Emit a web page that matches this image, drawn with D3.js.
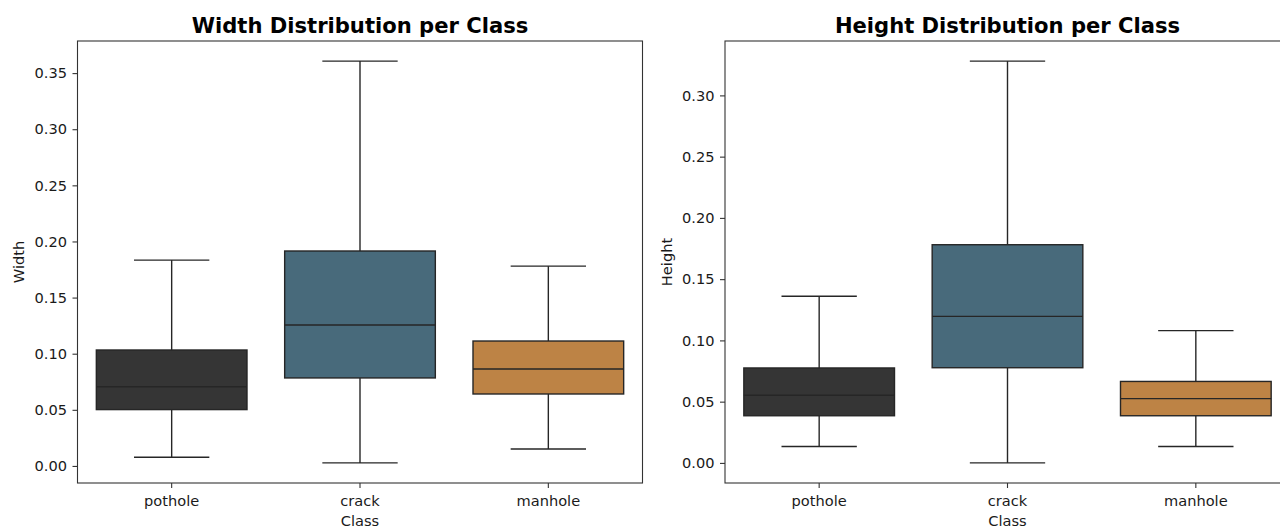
<!DOCTYPE html>
<html>
<head>
<meta charset="utf-8">
<script src="https://cdn.jsdelivr.net/npm/d3@7"></script>
<style>
  body { margin: 0; background: #fff; }
  svg { display: block; }
  text { font-family: "DejaVu Sans", sans-serif; fill: #1a1a1a; }
</style>
</head>
<body>
<svg id="chart" width="1280" height="528"></svg>
<script>
// categories, in plot order
var classes = ["pothole", "crack", "manhole"];
var colors = ["#353535", "#486a7b", "#bd8345"];

// box stats: [lower whisker, q1, median, q3, upper whisker]
var widthStats = [
  [0.0078, 0.0502, 0.0705, 0.1033, 0.1834],
  [0.0027, 0.0784, 0.1256, 0.1915, 0.3607],
  [0.0151, 0.0641, 0.0864, 0.1113, 0.1780]
];
var heightStats = [
  [0.0134, 0.0385, 0.0552, 0.0775, 0.1360],
  [0.0000, 0.0777, 0.1196, 0.1781, 0.3280],
  [0.0134, 0.0385, 0.0525, 0.0665, 0.1080]
];

var widthTicks = [0, 0.05, 0.10, 0.15, 0.20, 0.25, 0.30, 0.35];
var heightTicks = [0, 0.05, 0.10, 0.15, 0.20, 0.25, 0.30];

var svg = d3.select("#chart");
var top_ = 41, bottom = 483;
var fs = "14.6px";

// draw one box panel; x0/x1 are the frame edges
var panel = function(x0, x1, stats, ticks, title, ylabel) {
  var g = svg.append("g");

  // matplotlib style 5% margin around the whisker range
  var lo = d3.min(stats, function(d) { return d[0]; }),
      hi = d3.max(stats, function(d) { return d[4]; }),
      pad = (hi - lo) * 0.05;

  var y = d3.scaleLinear().domain([lo - pad, hi + pad]).range([bottom, top_]);
  var x = d3.scaleBand().domain(classes).range([x0, x1]);
  var bw = x.bandwidth() * 0.8;

  var boxes = g.selectAll("g.box")
    .data(stats)
    .enter().append("g")
      .attr("class", "box");

  var cx = function(d, i) { return x(classes[i]) + x.bandwidth() / 2; };

  // whiskers
  boxes.append("line")
    .attr("x1", cx).attr("x2", cx)
    .attr("y1", function(d) { return y(d[0]); })
    .attr("y2", function(d) { return y(d[1]); });
  boxes.append("line")
    .attr("x1", cx).attr("x2", cx)
    .attr("y1", function(d) { return y(d[3]); })
    .attr("y2", function(d) { return y(d[4]); });
  // caps
  [0, 4].forEach(function(k) {
    boxes.append("line")
      .attr("x1", function(d, i) { return cx(d, i) - bw / 4; })
      .attr("x2", function(d, i) { return cx(d, i) + bw / 4; })
      .attr("y1", function(d) { return y(d[k]); })
      .attr("y2", function(d) { return y(d[k]); });
  });
  // box
  boxes.append("rect")
    .attr("x", function(d, i) { return cx(d, i) - bw / 2; })
    .attr("width", bw)
    .attr("y", function(d) { return y(d[3]); })
    .attr("height", function(d) { return y(d[1]) - y(d[3]); })
    .style("fill", function(d, i) { return colors[i]; });
  // median
  boxes.append("line")
    .attr("x1", function(d, i) { return cx(d, i) - bw / 2; })
    .attr("x2", function(d, i) { return cx(d, i) + bw / 2; })
    .attr("y1", function(d) { return y(d[2]); })
    .attr("y2", function(d) { return y(d[2]); });

  boxes.selectAll("line, rect")
    .style("stroke", "#262626")
    .style("stroke-width", 1.4);

  // frame
  g.append("rect")
    .attr("x", x0).attr("y", top_)
    .attr("width", x1 - x0).attr("height", bottom - top_)
    .style("fill", "none")
    .style("stroke", "#333")
    .style("stroke-width", 1.1);

  var yAxis = d3.axisLeft(y)
    .tickValues(ticks)
    .tickFormat(d3.format(".2f"))
    .tickSize(5)
    .tickPadding(5.5);
  var ya = g.append("g")
    .attr("transform", "translate(" + x0 + ",0)")
    .call(yAxis);

  var xAxis = d3.axisBottom(x).tickSize(5).tickPadding(7.5);
  var xa = g.append("g")
    .attr("transform", "translate(0," + bottom + ")")
    .call(xAxis);

  [ya, xa].forEach(function(a) {
    a.attr("font-family", null).attr("font-size", null);
    a.select(".domain").remove();
    a.selectAll(".tick line").style("stroke", "#333").style("stroke-width", 1.1);
    a.selectAll(".tick text")
      .style("font-family", "'DejaVu Sans', sans-serif")
      .style("font-size", fs)
      .style("fill", "#1a1a1a");
  });

  g.append("text")
    .attr("x", (x0 + x1) / 2)
    .attr("y", 33)
    .attr("text-anchor", "middle")
    .style("font-size", "21.1px")
    .style("font-weight", "bold")
    .style("fill", "#000")
    .text(title);

  g.append("text")
    .attr("x", (x0 + x1) / 2)
    .attr("y", 526)
    .attr("text-anchor", "middle")
    .style("font-size", fs)
    .text("Class");

  g.append("text")
    .attr("transform", "translate(" + (x0 - 53.5) + "," + ((top_ + bottom) / 2) + ") rotate(-90)")
    .attr("text-anchor", "middle")
    .style("font-size", fs)
    .text(ylabel);
};

panel(77.5, 642.5, widthStats, widthTicks, "Width Distribution per Class", "Width");
panel(725, 1290, heightStats, heightTicks, "Height Distribution per Class", "Height");
</script>
</body>
</html>
